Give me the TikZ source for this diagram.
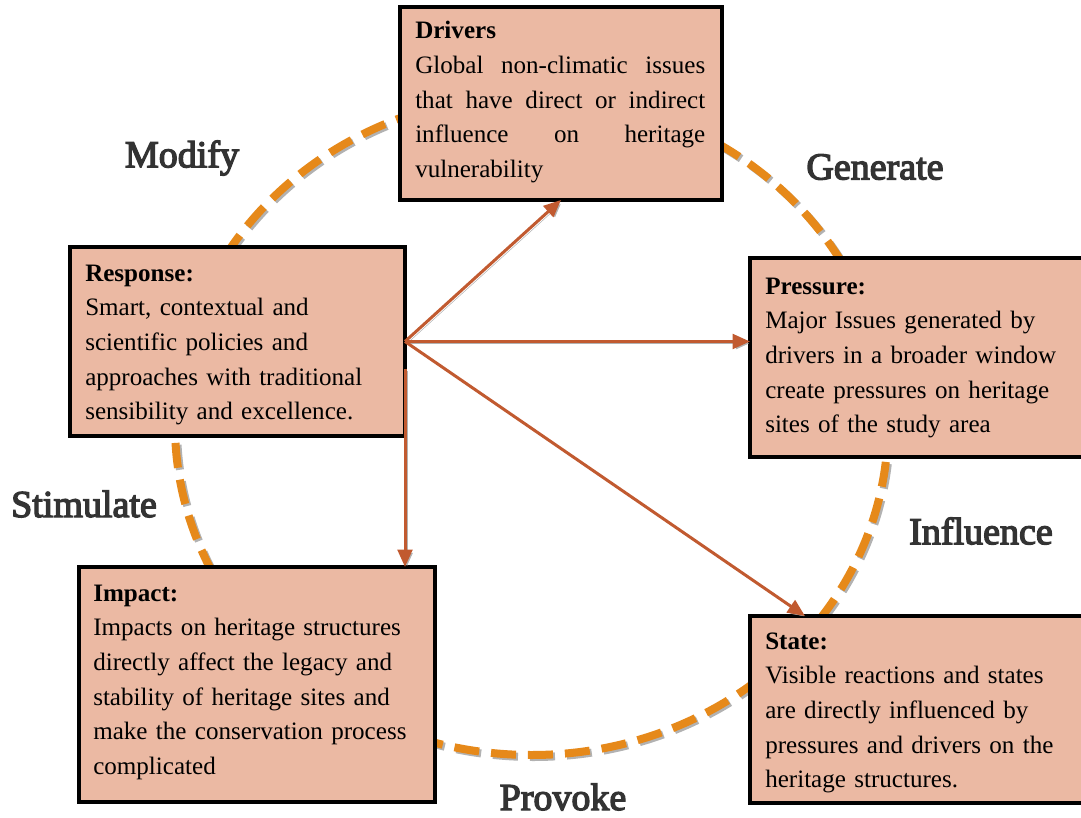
\documentclass[tikz,border=0pt]{standalone}
\usepackage{fontspec}
\setmainfont{Liberation Serif}
\newfontfamily\lblfont[FakeBold=3.5]{Liberation Serif}
\usetikzlibrary{arrows.meta,calc}
\definecolor{boxfill}{RGB}{235,185,163}
\definecolor{ring}{RGB}{230,137,26}
\definecolor{arr}{RGB}{193,90,48}
\begin{document}
\begin{tikzpicture}[x=0.75pt,y=-0.75pt,
  box/.style={draw=black,line width=3pt,fill=boxfill,inner sep=0pt,outer sep=0pt},
  txt/.style={anchor=base west,inner sep=0pt,align=left,text width=250pt,font=\fontsize{18.8}{26}\selectfont},
  lbl/.style={font=\lblfont\fontsize{28.5}{34}\selectfont,text=black!80,inner sep=0pt},
  link/.style={draw=arr,line width=2.25pt,-{Triangle[length=13pt,width=11pt]},
    preaction={draw=black!30,transform canvas={shift={(1.5pt,-1.5pt)}}}},
  ringline/.style={line width=6pt,dash pattern=on 18.75pt off 9pt}
]
\clip (0,0) rectangle (1081,817);
% dashed cycle
\draw[ringline,draw=black!30,transform canvas={shift={(1.5pt,-1.5pt)}}] (531.5,425) ellipse [x radius=356.5, y radius=330];
\draw[ringline,draw=ring] (531.5,425) ellipse [x radius=356.5, y radius=330];

% boxes
\node[box,minimum width=241.5pt,minimum height=144.75pt] (drv) at (561,103.5) {};
\node[box,minimum width=251.25pt,minimum height=141.75pt] (resp) at (237.5,341.5) {};
\node[box,minimum width=262.5pt,minimum height=149.25pt] (prs) at (925,357.5) {};
\node[box,minimum width=267pt,minimum height=176.25pt] (imp) at (257,684.5) {};
\node[box,minimum width=262.5pt,minimum height=140.25pt] (stt) at (925,709.5) {};

% texts
\node[txt,text width=217.5pt] (drvt) at (415,39) {\textbf{Drivers}\\
\makebox[217.5pt][s]{Global\hskip 0pt plus 1fil non-climatic\hskip 0pt plus 1fil issues}\\
\makebox[217.5pt][s]{that\hskip 0pt plus 1fil have\hskip 0pt plus 1fil direct\hskip 0pt plus 1fil or\hskip 0pt plus 1fil indirect}\\
\makebox[217.5pt][s]{influence\hskip 0pt plus 1fil on\hskip 0pt plus 1fil heritage}\\
vulnerability};
\node[txt] (respt) at (85,281) {\textbf{Response:}\\Smart, contextual and\\scientific policies and\\approaches with traditional\\sensibility and excellence.};
\node[txt] (prst) at (765,294) {\textbf{Pressure:}\\Major Issues generated by\\drivers in a broader window\\create pressures on heritage\\sites of the study area};
\node[txt] (impt) at (93,601) {\textbf{Impact:}\\Impacts on heritage structures\\directly affect the legacy and\\stability of heritage sites and\\make the conservation process\\complicated};
\node[txt] (sttt) at (765,649) {\textbf{State:}\\Visible reactions and states\\are directly influenced by\\pressures and drivers on the\\heritage structures.};

% labels
\node[lbl] (lmod) at (182,158) {Modify};
\node[lbl] (lgen) at (875,167) {Generate};
\node[lbl] (lsti) at (84,504) {Stimulate};
\node[lbl] (linf) at (981,531) {Influence};
\node[lbl] (lpro) at (563,797) {Provoke};

% arrows
\coordinate (hub) at (resp.east);
\coordinate (v0) at ([yshift=-20.25pt]resp.east);
\draw[link] (hub) -- (drv.south);
\draw[link] (hub) -- (prs.west |- hub);
\draw[link] (hub) -- ([xshift=41.25pt]stt.north west);
\draw[link] (v0) -- (v0 |- imp.north);
\end{tikzpicture}
\end{document}
